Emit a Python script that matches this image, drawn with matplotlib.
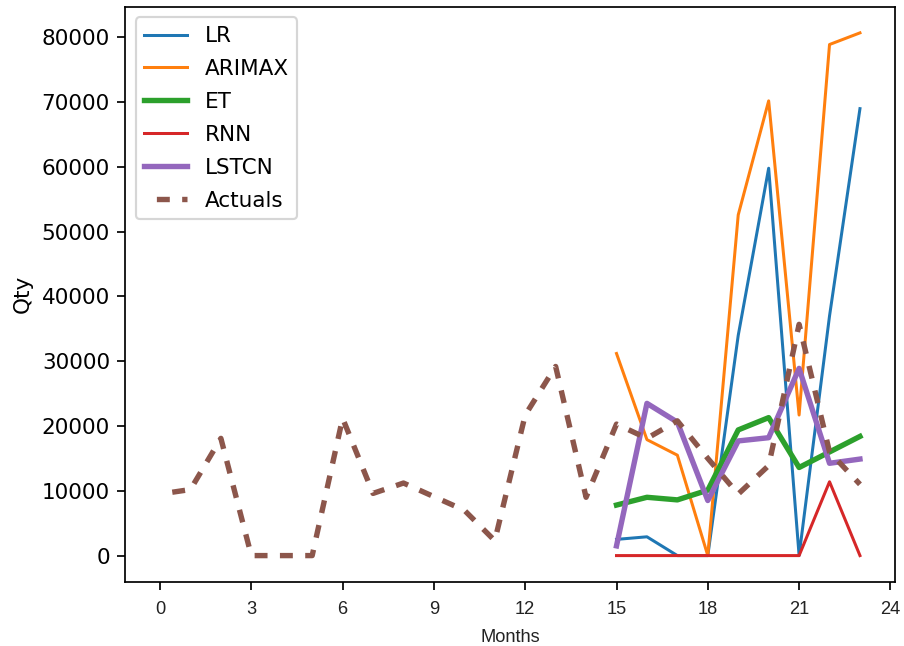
import matplotlib
matplotlib.use("Agg")
import matplotlib.pyplot as plt

# dados
months = list(range(24))
actuals = [9500, 10200, 18100, 0, 0, 0, 21200, 9600, 11200, 9100, 7000, 2300,
           21700, 29200, 9000, 20300, 18100, 20800, 15000, 9500, 13900, 35700,
           16000, 11000]

pred_months = list(range(15, 24))
lr = [2500, 2900, 0, 0, 34000, 59800, 0, 37000, 69000]
arimax = [31200, 17900, 15500, 0, 52600, 70200, 21700, 78900, 80700]
et = [7800, 9000, 8600, 10100, 19400, 21300, 13600, 16000, 18400]
rnn = [0, 0, 0, 0, 0, 0, 0, 11400, 0]
lstcn = [1500, 23500, 20600, 8500, 17700, 18200, 28900, 14250, 14900]

DPI = 155
fig = plt.figure(figsize=(904 / DPI, 646 / DPI), dpi=DPI)
ax = fig.add_axes([0.1383, 0.0995, 0.8517, 0.8901])

ax.plot(pred_months, lr, color="C0", lw=1.4, label="LR")
ax.plot(pred_months, arimax, color="C1", lw=1.4, label="ARIMAX")
ax.plot(pred_months, et, color="C2", lw=2.5, label="ET")
ax.plot(pred_months, rnn, color="C3", lw=1.4, label="RNN")
ax.plot(pred_months, lstcn, color="C4", lw=2.5, label="LSTCN")
ax.plot(months, actuals, color="C5", lw=2.5, linestyle=(2.4, (2.4, 2.3)), label="Actuals")

ax.set_xticks(range(0, 25, 3))
ax.set_yticks(range(0, 80001, 10000))
ax.tick_params(axis="x", labelsize=8.5, pad=5.5, labelcolor="#222222")
for lab in ax.get_xticklabels():
    lab.set_family(["Liberation Sans Narrow", "Liberation Sans"])

ax.set_xlabel("Months", fontsize=8.5, color="#222222",
              family=["Liberation Sans Narrow", "Liberation Sans"],
              labelpad=5)
ax.set_ylabel("Qty")
ax.legend(loc="upper left", labelspacing=0.6)

fig.savefig("out.png", dpi=DPI)
